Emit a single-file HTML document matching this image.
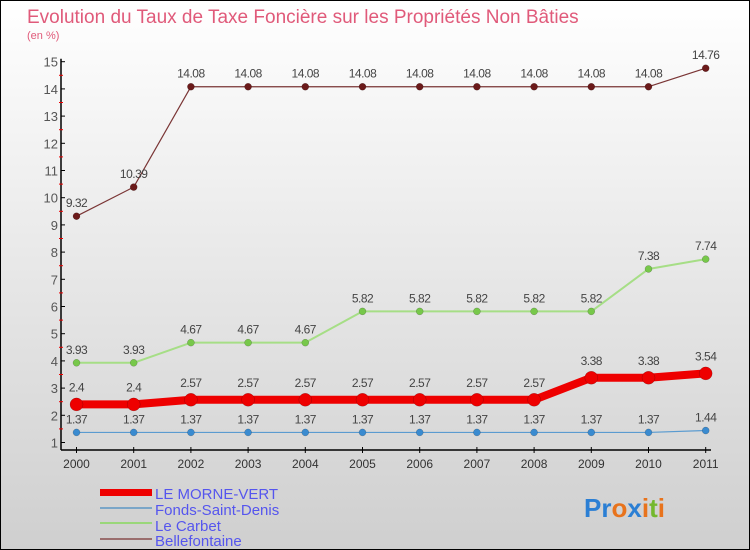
<!DOCTYPE html>
<html><head><meta charset="utf-8"><style>
html,body{margin:0;padding:0}
body{width:750px;height:550px;overflow:hidden;font-family:"Liberation Sans",sans-serif}
#wrap{position:relative;width:748px;height:548px;border:1px solid #000;background:linear-gradient(#ffffff,#cfcfcf)}
</style></head><body>
<div id="wrap">
<svg id="chart" width="748" height="548" style="position:absolute;left:0;top:0">
<text x="26" y="22" font-size="19" fill="#e05a7a">Evolution du Taux de Taxe Foncière sur les Propriétés Non Bâties</text>
<text x="26" y="38" font-size="11" fill="#e05a7a">(en %)</text>
<g id="axes"></g><g id="series"></g>
<g>
<rect x="99" y="488" width="52" height="7" fill="#ee0000"/>
<line x1="99" y1="507" x2="151" y2="507" stroke="#7aa6c8" stroke-width="2"/>
<line x1="99" y1="522" x2="151" y2="522" stroke="#9ad77a" stroke-width="2"/>
<line x1="99" y1="538" x2="151" y2="538" stroke="#9a6e6e" stroke-width="2"/>
<text x="154" y="498" font-size="15" fill="#5555ee">LE MORNE-VERT</text>
<text x="154" y="514" font-size="15" fill="#5555ee">Fonds-Saint-Denis</text>
<text x="154" y="530" font-size="15" fill="#5555ee">Le Carbet</text>
<text x="154" y="545" font-size="15" fill="#5555ee">Bellefontaine</text>
</g>
<text x="583" y="516" font-size="26" font-weight="bold"><tspan fill="#2b7fd4">Pr</tspan><tspan fill="#e8731c">o</tspan><tspan fill="#2b7fd4">x</tspan><tspan fill="#e8731c">i</tspan><tspan fill="#74b82e">t</tspan><tspan fill="#e8731c">i</tspan></text>
</svg>
</div>
<script>
const years=[2000,2001,2002,2003,2004,2005,2006,2007,2008,2009,2010,2011];
const yTicks=[1,2,3,4,5,6,7,8,9,10,11,12,13,14,15];
const moneVert=[2.4,2.4,2.57,2.57,2.57,2.57,2.57,2.57,2.57,3.38,3.38,3.54];
const fondsSaintDenis=[1.37,1.37,1.37,1.37,1.37,1.37,1.37,1.37,1.37,1.37,1.37,1.44];
const leCarbet=[3.93,3.93,4.67,4.67,4.67,5.82,5.82,5.82,5.82,5.82,7.38,7.74];
const bellefontaine=[9.32,10.39,14.08,14.08,14.08,14.08,14.08,14.08,14.08,14.08,14.08,14.76];
const NS='http://www.w3.org/2000/svg';
function X(i){return 75.5+i*57.2;}
function Y(v){return 441.5-(v-1)*27.2;}
function mk(t,a,p){const e=document.createElementNS(NS,t);for(const k in a)e.setAttribute(k,a[k]);p.appendChild(e);return e;}
const ax=document.getElementById('axes');
let yl=mk('line',{x1:60,y1:Y(15)-3,x2:60,y2:449,stroke:'#000','stroke-width':1.5},ax);


let xl=mk('line',{x1:60,y1:449,x2:710,y2:449,stroke:'#000','stroke-width':1.5},ax);


yTicks.forEach(v=>{
 mk('line',{x1:60,y1:Y(v),x2:64,y2:Y(v),stroke:'#000'},ax);
 if(v<15) mk('line',{x1:58,y1:Y(v+0.5),x2:62,y2:Y(v+0.5),stroke:'#e00'},ax);
 const t=mk('text',{x:57,y:Y(v)+5,'text-anchor':'end','font-size':13,fill:'#555'},ax);t.textContent=v;
 
 
});
years.forEach((y,i)=>{
 mk('line',{x1:X(i),y1:446,x2:X(i),y2:452,stroke:'#000'},ax);
 const t=mk('text',{x:X(i),y:467,'text-anchor':'middle','font-size':12,fill:'#333'},ax);t.textContent=y;
 
 
});
const sg=document.getElementById('series');
function draw(data,color,w,r,name,dot,fmt,off){
 const g=mk('g',{},sg);
 
 
 mk('polyline',{points:data.map((v,i)=>X(i)+','+Y(v)).join(' '),fill:'none',stroke:color,'stroke-width':w,'stroke-linejoin':'round'},g);
 data.forEach((v,i)=>{
  const c=mk('circle',{cx:X(i),cy:Y(v),r:r,fill:dot,stroke:'rgba(0,0,0,0.3)','stroke-width':0.5},g);
  
  
  const t=mk('text',{x:X(i),y:Y(v)-off,'text-anchor':'middle','font-size':12,fill:'#444','letter-spacing':'-0.5'},g);
  t.textContent=fmt(v);
  
  
 });
}
const f2=v=>String(v);
draw(bellefontaine,'#7a3535',1.2,3.5,'bellefontaine','#6b1a1a',f2,9);
draw(leCarbet,'#a6de86',2,3.5,'le-carbet','#77c84a',f2,9);
draw(fondsSaintDenis,'#5a9bd0',1.2,3.5,'fonds-saint-denis','#3a8bd0',f2,9);
draw(moneVert,'#ee0000',8,6.5,'le-morne-vert','#ee0000',f2,13);
</script>
</body></html>
